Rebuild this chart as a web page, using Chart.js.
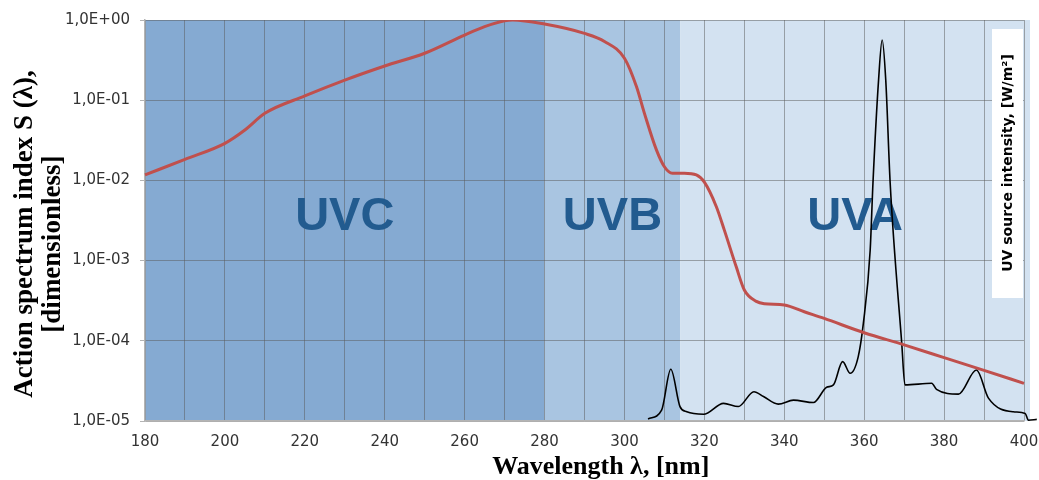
<!DOCTYPE html>
<html lang="en">
<head>
<meta charset="UTF-8" />
<title>UV action spectrum</title>
<script src="https://cdn.jsdelivr.net/npm/chart.js@4.4.1/dist/chart.umd.min.js"></script>
<style>
  html, body { margin: 0; padding: 0; background: #fff; }
  .chart-container { width: 1039px; height: 480px; position: relative; }
</style>
</head>
<body>
<div class="chart-container"><canvas id="uvChart"></canvas></div>
<script>
// action spectrum S(lambda)
const actionWavelengths = [180, 190, 200, 205, 210, 220, 230, 240, 250, 260, 265, 270, 272, 280, 290, 295, 300, 303, 305, 308, 310, 312, 315, 318, 320, 323, 325, 328, 330, 333, 335, 340, 345, 350, 360, 370, 380, 390, 400];
const actionIndex = [0.0117, 0.0183, 0.029, 0.0425, 0.0686, 0.113, 0.178, 0.267, 0.385, 0.65, 0.826, 0.977, 1.0, 0.89, 0.68, 0.54, 0.333, 0.148, 0.0686, 0.024, 0.0148, 0.0123, 0.0123, 0.0117, 0.0095, 0.0047, 0.0024, 0.00083, 0.00043, 0.00031, 0.00029, 0.00028, 0.00023, 0.00019, 0.000126, 0.0000891, 0.0000617, 0.0000427, 0.0000295];

// UV source spectrum (relative units, no axis shown)
const sourceWavelengths = [305.9, 309.3, 311.6, 313.9, 315.6, 319.8, 324.8, 328.5, 332.4, 334.8, 338.5, 342.3, 347.3, 350.6, 352.3, 354.6, 356.5, 358.5, 359.8, 361.5, 362.2, 363.6, 364.5, 365.4, 366.5, 369.4, 370.2, 376.9, 378.1, 383.6, 388.1, 391.1, 397.3, 400.3, 401.1, 403.2];
const sourceIntensity = [0.005, 0.027, 0.129, 0.036, 0.023, 0.017, 0.044, 0.036, 0.073, 0.061, 0.042, 0.052, 0.046, 0.084, 0.090, 0.148, 0.119, 0.160, 0.244, 0.426, 0.594, 0.85, 0.95, 0.85, 0.594, 0.194, 0.090, 0.094, 0.079, 0.067, 0.127, 0.057, 0.023, 0.019, 0.002, 0.004];

const xRange = [180, 400];
const yTicks = [1e-5, 1e-4, 1e-3, 1e-2, 1e-1, 1];

const bandEdges = [180, 280, 314, 401.5];
const bandNames = ["UVC", "UVB", "UVA"];
const bandColors = ["#85aad2", "#a9c5e1", "#d3e2f1"];

function sciLabel(v) {
  const e = Math.round(Math.log10(v));
  return "1,0E" + (e < 0 ? "-" : "+") + String(Math.abs(e)).padStart(2, "0");
}

const bandPlugin = {
  id: "uvBands",
  beforeDraw(chart) {
    const { ctx, chartArea: a, scales: { x } } = chart;
    ctx.save();
    for (let i = 0; i < bandNames.length; i++) {
      const x0 = x.getPixelForValue(bandEdges[i]);
      const x1 = x.getPixelForValue(bandEdges[i + 1]);
      ctx.fillStyle = bandColors[i];
      ctx.fillRect(x0, a.top, x1 - x0, a.bottom - a.top);
    }
    ctx.restore();
  },
  beforeDatasetsDraw(chart) {
    const { ctx, chartArea: a, scales: { x, y } } = chart;
    ctx.save();
    // band names
    ctx.fillStyle = "#225b8f";
    ctx.font = "bold 47px 'Liberation Sans', Arial, sans-serif";
    ctx.textAlign = "center";
    ctx.textBaseline = "middle";
    const ly = y.getPixelForValue(3.5e-3);
    for (let i = 0; i < bandNames.length; i++) {
      const cx = (x.getPixelForValue(bandEdges[i]) + x.getPixelForValue(bandEdges[i + 1])) / 2;
      ctx.fillText(bandNames[i], cx, ly);
    }
    // label box for the source spectrum
    ctx.fillStyle = "#fff";
    ctx.fillRect(a.right - 32, a.top + 9, 31, 269);
    ctx.translate(a.right - 16, a.top + 143);
    ctx.rotate(-Math.PI / 2);
    ctx.fillStyle = "#000";
    ctx.font = "bold 14px 'DejaVu Sans', sans-serif";
    ctx.fillText("UV source intensity, [W/m\u00b2]", 0, 0);
    ctx.restore();
  }
};

const ctx = document.getElementById("uvChart").getContext("2d");

new Chart(ctx, {
  type: "line",
  data: {
    datasets: [
      {
        label: "Action spectrum",
        data: actionWavelengths.map((w, i) => ({ x: w, y: actionIndex[i] })),
        borderColor: "#c0504d",
        borderWidth: 3,
        pointRadius: 0,
        cubicInterpolationMode: "monotone",
        yAxisID: "y",
      },
      {
        label: "UV source",
        data: sourceWavelengths.map((w, i) => ({ x: w, y: sourceIntensity[i] })),
        borderColor: "#000",
        borderWidth: 1.6,
        pointRadius: 0,
        cubicInterpolationMode: "monotone",
        clip: false,
        yAxisID: "y2",
      },
    ],
  },
  options: {
    responsive: true,
    maintainAspectRatio: false,
    animation: false,
    layout: { padding: { top: 20, right: 15, left: 0, bottom: 0 } },
    plugins: {
      legend: { display: false },
      tooltip: { enabled: false },
    },
    scales: {
      x: {
        type: "linear",
        // range set after data limits so the source line may run past 400
        afterDataLimits: (s) => { s.min = xRange[0]; s.max = xRange[1]; },
        afterFit: (s) => { s.height = 59; s.paddingRight = 0; s.paddingLeft = 0; },
        border: { color: "#b4b4b4", width: 1.5 },
        grid: { color: "rgba(90,90,90,0.5)", drawTicks: false },
        ticks: {
          stepSize: 10,
          autoSkip: false,
          maxRotation: 0,
          padding: 12,
          color: "#333",
          font: { family: "'DejaVu Sans', sans-serif", size: 15 },
          callback: (v) => (v % 20 === 0 ? String(v) : ""),
        },
        title: {
          display: true,
          text: "     Wavelength \u03bb, [nm]",
          color: "#000",
          padding: { top: 0, bottom: 0 },
          font: { family: "'Liberation Serif', 'Times New Roman', serif", size: 26, weight: "bold", lineHeight: 1.0 },
        },
      },
      y: {
        type: "logarithmic",
        min: 1e-5,
        max: 1,
        afterBuildTicks: (s) => { s.ticks = yTicks.map((v) => ({ value: v })); },
        afterFit: (s) => { s.width = 145; s.paddingTop = 0; s.paddingBottom = 0; },
        border: { color: "#b4b4b4", width: 1.5 },
        grid: { color: "rgba(90,90,90,0.5)", tickLength: 5, tickColor: "#b4b4b4" },
        ticks: {
          padding: 10,
          color: "#333",
          font: { family: "'DejaVu Sans', sans-serif", size: 15 },
          callback: (v) => sciLabel(v),
        },
        title: {
          display: true,
          text: ["Action spectrum index S (\u03bb),    ", "[dimensionless]       "],
          color: "#000",
          padding: { top: 11, bottom: 0 },
          font: { family: "'Liberation Serif', 'Times New Roman', serif", size: 27, weight: "bold", lineHeight: 1.05 },
        },
      },
      y2: {
        type: "linear",
        display: false,
        min: 0,
        max: 1,
      },
    },
  },
  plugins: [bandPlugin],
});
</script>
</body>
</html>
